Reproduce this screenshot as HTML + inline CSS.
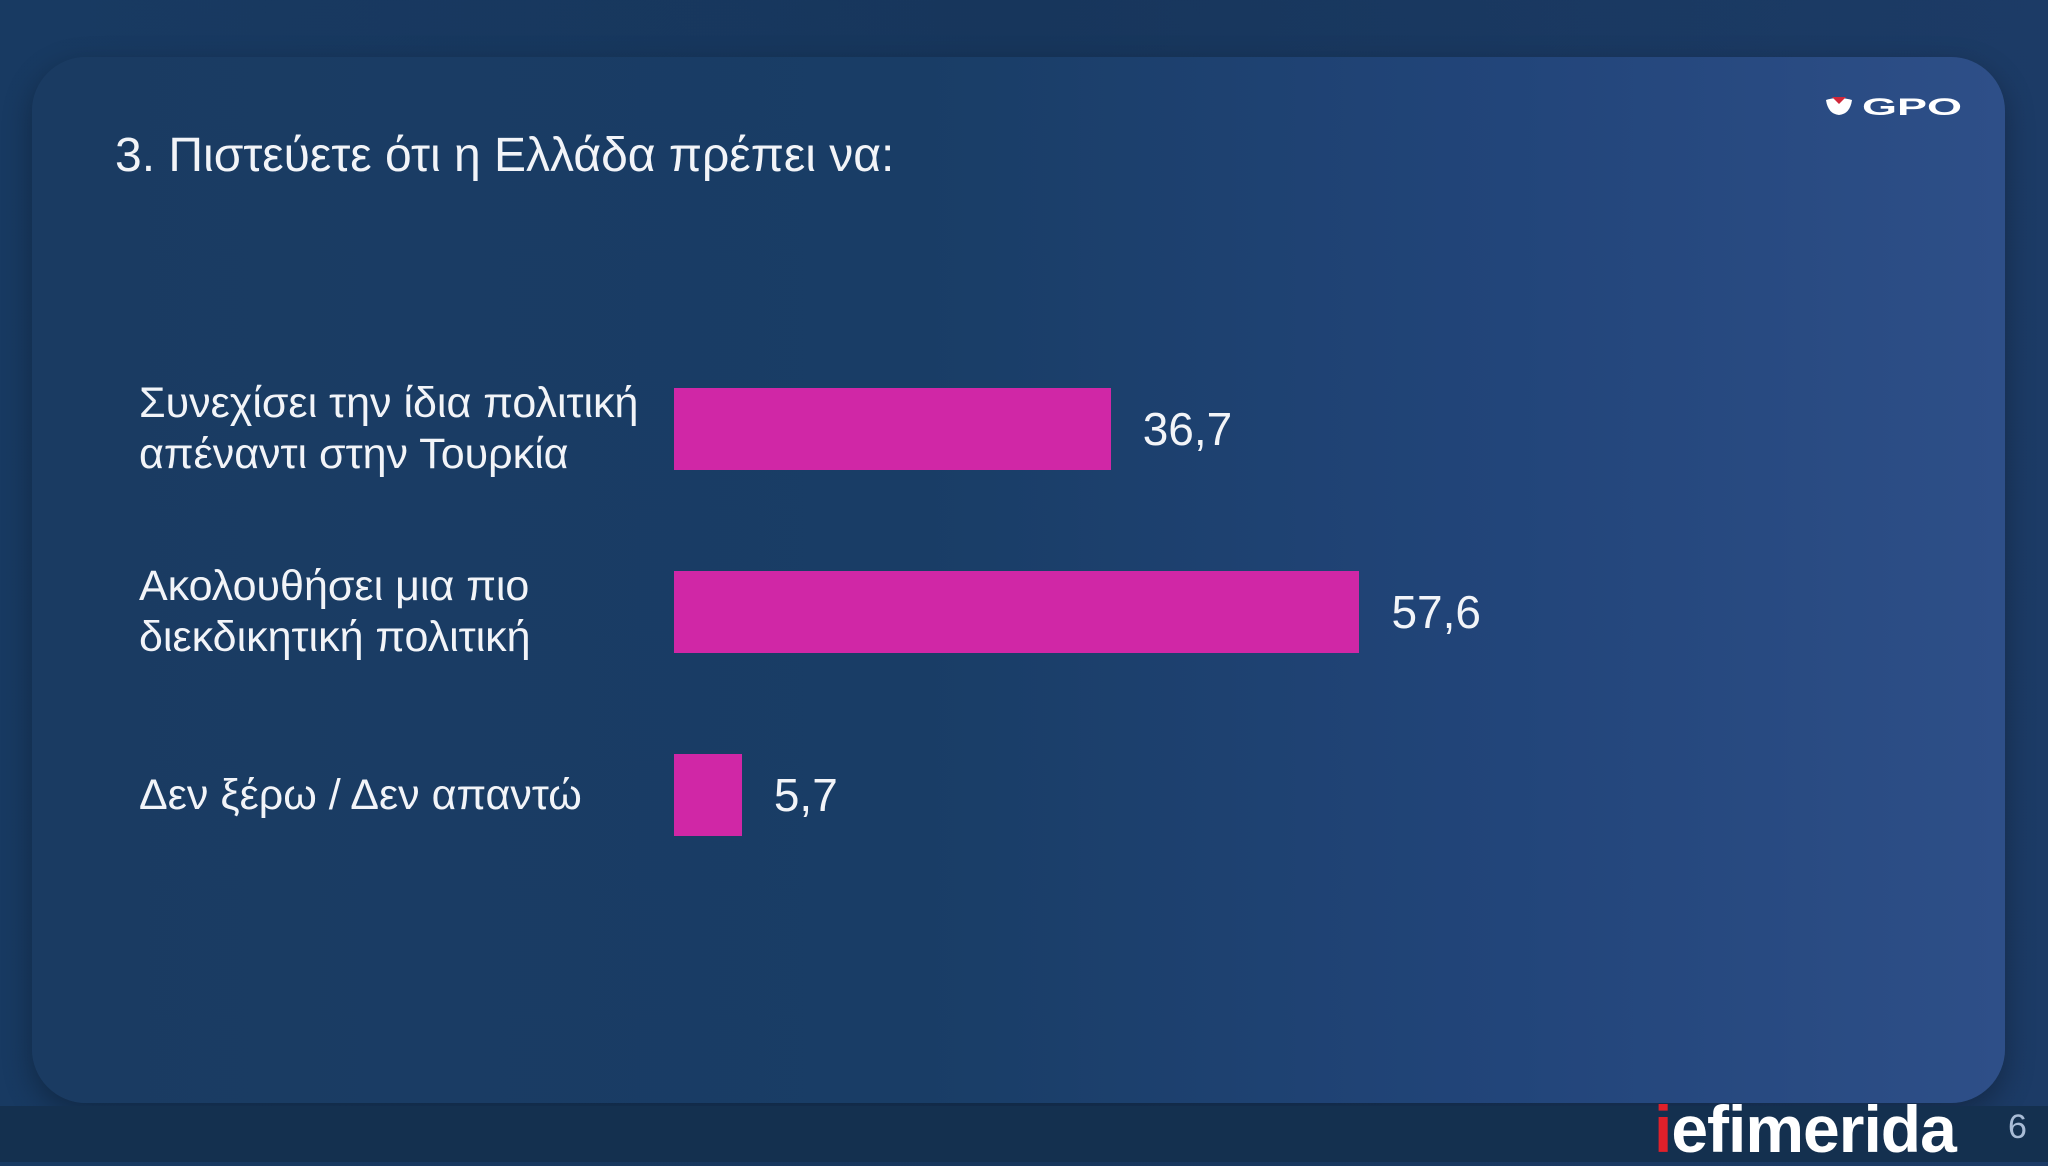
<!DOCTYPE html>
<html><head><meta charset="utf-8">
<style>
html,body{margin:0;padding:0;}
body{width:2048px;height:1162px;position:relative;overflow:hidden;background:linear-gradient(90deg,#183a62 0%,#17365c 50%,#1c3b66 100%);font-family:"Liberation Sans","DejaVu Sans",sans-serif;color:#fff;}
#card{position:absolute;left:32px;top:57px;width:1973px;height:1046px;border-radius:54px;background:linear-gradient(90deg,#1a3b62 0%,#193d66 45%,#22457a 75%,#2e4f88 100%);box-shadow:0 10px 30px rgba(0,0,0,0.3);}
#title{position:absolute;left:115px;top:128px;font-size:48px;color:#f2f4f8;white-space:nowrap;}
.lbl{position:absolute;left:139px;font-size:43px;line-height:51px;color:#f2f4f8;white-space:nowrap;}
.val{position:absolute;font-size:46px;color:#f2f4f8;}
.bar{position:absolute;background:#d027a6;}
#footer{position:absolute;left:0;top:1106px;width:2048px;height:56px;background:#14304f;}
</style></head><body>
<div id="card"></div>
<div id="title">3. Πιστεύετε ότι η Ελλάδα πρέπει να:</div>
<div style="position:absolute;left:1824px;top:94px;width:140px;height:24px;">
<svg width="140" height="24" viewBox="0 0 140 24"><path d="M2 6 Q14 2 28 6 Q26 20 15 21 Q4 20 2 6Z" fill="#fff"/><path d="M8 3 L15 10 L22 3 Z" fill="#d0283a"/>
<text x="38" y="21" font-family="Liberation Sans" font-weight="bold" font-size="24" fill="#fff" textLength="100" lengthAdjust="spacingAndGlyphs">GPO</text></svg></div>
<div id="chart"></div>
<div id="footer"></div>
<div style="position:absolute;left:1654px;top:1096px;font-size:66px;font-weight:bold;letter-spacing:-1px;line-height:66px;"><span style="color:#e0202a">i</span>efimerida</div>
<div style="position:absolute;left:2008px;top:1108px;font-size:34px;color:#a9bcd6;">6</div>
<script>
const categories=[["Συνεχίσει την ίδια πολιτική","απέναντι στην Τουρκία"],["Ακολουθήσει μια πιο","διεκδικητική πολιτική"],["Δεν ξέρω / Δεν απαντώ"]];
const values=[36.7,57.6,5.7];
const valueLabels=["36,7","57,6","5,7"];
const x0=674,pxPerUnit=11.9,y0=388,step=183,barH=82;
function xScale(v){return v*pxPerUnit;}
function yScale(i){return y0+i*step;}
const chart=document.getElementById('chart');
values.forEach((v,i)=>{
  const b=document.createElement('div');b.className='bar';
  
  
  b.style.left=x0+'px';b.style.top=yScale(i)+'px';b.style.width=xScale(v)+'px';b.style.height=barH+'px';
  chart.appendChild(b);
  const t=document.createElement('div');t.className='val';
  
  
  t.textContent=valueLabels[i];
  t.style.left=(x0+xScale(v)+32)+'px';t.style.top=(yScale(i)+barH/2-27)+'px';
  chart.appendChild(t);
  const l=document.createElement('div');l.className='lbl';
  
  
  l.innerHTML=categories[i].join('<br>');
  l.style.top=(yScale(i)+barH/2-categories[i].length*51/2)+'px';
  chart.appendChild(l);
});
</script>
</body></html>
